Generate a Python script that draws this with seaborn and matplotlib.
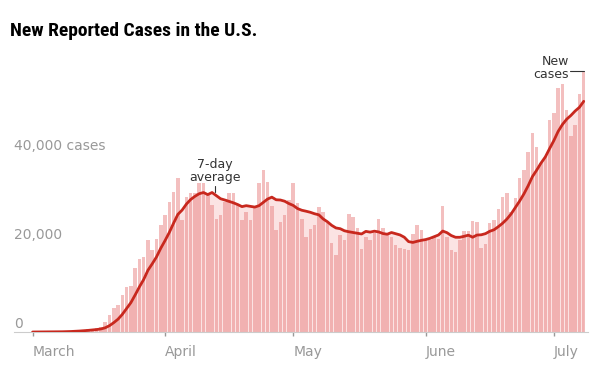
import numpy as np
import pandas as pd
import matplotlib
matplotlib.use("Agg")
import matplotlib.pyplot as plt
import seaborn as sns
from matplotlib.transforms import ScaledTranslation

# -----------------------------------
# Data (daily new reported cases, Mar 1 - Jul 8)
# -----------------------------------
cases = [
    10, 20, 25, 35, 60, 80, 110, 130, 190, 260,
    380, 450, 560, 650, 750, 900, 1200, 2200, 3800, 5300,
    6100, 8300, 10200, 10300, 14300, 16500, 16900, 20700, 18400, 21000,
    24000, 26300, 29300, 31500, 34500, 25200, 30400, 31200, 31300, 33400,
    33400, 31200, 28500, 25500, 26300, 29300, 31200, 31200, 28500, 25200,
    27000, 25200, 28200, 33400, 36300, 33800, 28200, 22900, 24800, 26300,
    29700, 33400, 28900, 25500, 21400, 23100, 24000, 28000, 27000, 24400,
    19900, 17300, 21900, 20700, 26500, 25800, 23300, 18700, 21400, 20700,
    22200, 25300, 23300, 22200, 21400, 19500, 18800, 18600, 18400, 22000,
    24000, 22900, 20700, 20700, 21300, 21000, 28200, 21400, 18400, 18000,
    20700, 22800, 22800, 25000, 24800, 18800, 19800, 24400, 25200, 27600,
    30400, 31300, 27000, 30000, 34500, 36400, 40500, 44800, 41500, 38000,
    39500, 47600, 49100, 54800, 55700, 49900, 44000, 46500, 53400, 58500,
]
month_labels = ["March", "April", "May", "June", "July"]
month_starts = ["2020-03-01", "2020-04-01", "2020-05-01", "2020-06-01", "2020-07-01"]
ytick_values = [0, 20000, 40000]
ytick_labels = ["0", "20,000", "40,000 cases"]

dates = pd.date_range("2020-03-01", periods=len(cases))
df = pd.DataFrame({"date": dates, "cases": cases})
df["day"] = np.arange(len(df))
df["avg"] = df["cases"].rolling(7, min_periods=1).mean()

month_pos = [int(np.where(dates == pd.Timestamp(m))[0][0]) for m in month_starts]

# -----------------------------------
# Style
# -----------------------------------
sns.set_style("white")
plt.rcParams["font.family"] = ["DejaVu Sans"]

bar_color = "#e88080"
area_color = "#fbe3e3"
line_color = "#c8281e"
gray = "#999999"

fig = plt.figure(figsize=(6, 3.71), dpi=100)
ax = fig.add_axes([0.023, 0.105, 0.957, 0.72])

# light shading under the 7-day average
ax.fill_between(df["day"], df["avg"], color=area_color, lw=0, zorder=1)

sns.barplot(data=df, x="day", y="cases", color=bar_color, alpha=0.5,
            saturation=1, width=0.82, linewidth=0, ax=ax, zorder=2)

sns.lineplot(data=df, x="day", y="avg", color=line_color, lw=2.0,
             ax=ax, zorder=3)

ax.set_xlim(-4.4, 130)
ax.set_ylim(0, 60000)
ax.set_xlabel("")
ax.set_ylabel("")

# y labels sit just above their value, inside the plot
ax.set_yticks([])
for v, lab in zip(ytick_values, ytick_labels):
    ax.text(-4.4, v + 300, lab, ha="left", va="bottom", fontsize=10, color=gray)

# month ticks
ax.set_xticks(month_pos)
ax.set_xticklabels(month_labels, ha="left", fontsize=10, color=gray)
shift = ScaledTranslation(-6 / 100, 0, fig.dpi_scale_trans)
for lab in ax.get_xticklabels():
    lab.set_transform(lab.get_transform() + shift)
ax.tick_params(axis="x", length=3, width=1, color=gray, pad=6, bottom=True)

sns.despine(ax=ax, left=True)
ax.spines["bottom"].set_color("#cccccc")

# annotations
ax.text(42.7, 33200, "7-day\naverage", ha="center", va="bottom", fontsize=9,
        color="#333333", linespacing=1.0)
ax.plot([42.7, 42.7], [31500, 32900], color="#333333", lw=0.8, zorder=4)

ax.text(125.5, 56300, "New\ncases", ha="right", va="bottom", fontsize=9,
        color="#333333", linespacing=1.0)
ax.plot([125.9, 129.0], [58600, 58600], color="#333333", lw=0.8, clip_on=False)

fig.text(0.017, 0.916, "New Reported Cases in the U.S.", ha="left", va="center",
         fontsize=14, fontweight="bold", color="black",
         family=["Roboto Condensed", "Roboto", "DejaVu Sans"])

plt.savefig("out.png", dpi=100)
